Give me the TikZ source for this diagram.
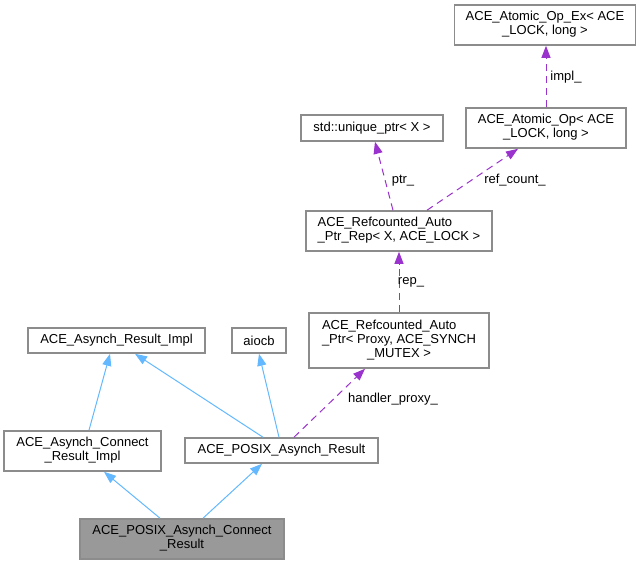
\documentclass[tikz,border=0pt]{standalone}
\usepackage{fontspec}
\setmainfont{Liberation Sans}
\usetikzlibrary{arrows.meta}
\definecolor{edgeblue}{HTML}{63B8FF}
\definecolor{edgepurple}{HTML}{9A32CD}
\definecolor{boxgray}{HTML}{8C8C8C}
\definecolor{mainfill}{HTML}{999999}
\newcommand{\lastline}[1]{\multicolumn{1}{@{}c@{}}{#1}}

\begin{document}
\begin{tikzpicture}
  [
    x=1pt, y=-1pt,
    font=\fontsize{13}{14}\selectfont,
    cls/.style={draw=boxgray, line width=1.6pt, fill=white, inner sep=0pt},
    inherit/.style={-{Triangle[length=12pt,width=9pt]}, draw=edgeblue, line width=1pt},
    usage/.style={-{Triangle[length=12pt,width=9pt]}, draw=edgepurple, line width=1pt, dash pattern=on 7pt off 5pt}
  ]
  \useasboundingbox (0, 0) rectangle (643, 565);
  \node [cls, minimum width=181, minimum height=40] at (545, 25) (atomicex) {\begin{tabular}{@{}l@{}}ACE\_Atomic\_Op\_Ex< ACE\\\lastline{\_LOCK, long >}\end{tabular}};
  \node [cls, minimum width=160, minimum height=40] at (546, 128) (atomicop) {\begin{tabular}{@{}l@{}}ACE\_Atomic\_Op< ACE\\\lastline{\_LOCK, long >}\end{tabular}};
  \node [cls, minimum width=142, minimum height=26] at (372, 128) (uptr) {std::unique\_ptr< X >};
  \node [cls, minimum width=186, minimum height=40] at (399, 231) (rep) {\begin{tabular}{@{}l@{}}ACE\_Refcounted\_Auto\\\lastline{\_Ptr\_Rep< X, ACE\_LOCK >}\end{tabular}};
  \node [cls, minimum width=180, minimum height=55] at (399, 340.5) (autoptr) {\begin{tabular}{@{}l@{}}ACE\_Refcounted\_Auto\\\_Ptr< Proxy, ACE\_SYNCH\\\lastline{\_MUTEX >}\end{tabular}};
  \node [cls, minimum width=177, minimum height=25] at (116.5, 340.5) (resimpl) {ACE\_Asynch\_Result\_Impl};
  \node [cls, minimum width=54, minimum height=25] at (259, 340.5) (aiocb) {aiocb};
  \node [cls, minimum width=157, minimum height=40] at (82.5, 451) (conimpl) {\begin{tabular}{@{}l@{}}ACE\_Asynch\_Connect\\\lastline{\_Result\_Impl}\end{tabular}};
  \node [cls, minimum width=193, minimum height=25] at (281.5, 450.5) (posixres) {ACE\_POSIX\_Asynch\_Result};
  \node [cls, fill=mainfill, minimum width=204, minimum height=40] at (182, 539) (main) {\begin{tabular}{@{}c@{}}ACE\_POSIX\_Asynch\_Connect\\\_Result\end{tabular}};

  % inheritance
  \draw [inherit] ([xshift=-22]main.north) -- ([xshift=21.5]conimpl.south);
  \draw [inherit] ([xshift=21]main.north) -- ([xshift=-19.5]posixres.south);
  \draw [inherit] ([xshift=6.5]conimpl.north) -- ([xshift=-6.5]resimpl.south);
  \draw [inherit] ([xshift=-18.5]posixres.north) -- ([xshift=18.5]resimpl.south);
  \draw [inherit] ([xshift=-2.5]posixres.north) -- (aiocb.south);

  % members
  \draw [usage] ([xshift=12.5]posixres.north) -- ([xshift=-34]autoptr.south);
  \draw [usage] (autoptr.north) -- (rep.south);
  \draw [usage] ([xshift=-6]rep.north) -- ([xshift=3]uptr.south);
  \draw [usage] ([xshift=28]rep.north) -- ([xshift=-28]atomicop.south);
  \draw [usage] (atomicop.north) -- ([xshift=1]atomicex.south);
  \node at (393, 399) (lhandler) {handler\_proxy\_};
  \node at (411, 282) (lrep) {rep\_};
  \node at (403, 181) (lptr) {ptr\_};
  \node at (515, 180) (lref) {ref\_count\_};
  \node at (566, 77) (limpl) {impl\_};

\end{tikzpicture}
\end{document}
